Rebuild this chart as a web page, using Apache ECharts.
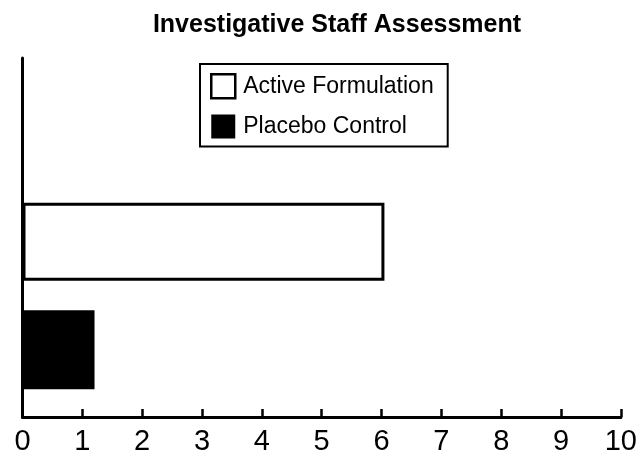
<!DOCTYPE html>
<html>
<head>
<meta charset="utf-8">
<script src="https://cdn.jsdelivr.net/npm/echarts@6/dist/echarts.min.js"></script>
<style>html,body{margin:0;padding:0;background:#fff}#c{width:640px;height:457px}</style>
</head>
<body>
<div id="c"></div>
<script>
const titleText = 'Investigative Staff Assessment';
const categories = ['Placebo Control', 'Active Formulation'];
const seriesNames = ['Active Formulation', 'Placebo Control'];
const activeValues = ['-', 6.03];
const placeboValues = [1.2, '-'];
const xMin = 0, xMax = 10, xStep = 1;

const FONT = '"Liberation Sans", Arial, Helvetica, sans-serif';
const chart = echarts.init(document.getElementById('c'), null, {renderer: 'canvas'});
chart.setOption({
  animation: false,
  backgroundColor: '#fff',
  title: {
    text: titleText, left: 332, top: 8, textAlign: 'center',
    textStyle: {fontFamily: FONT, fontWeight: 'bold', fontSize: 25, color: '#000'}
  },
  legend: {
    orient: 'vertical', left: 200, top: 64,
    padding: [9, 14, 8, 10],
    borderColor: '#000', borderWidth: 2,
    itemWidth: 24, itemHeight: 24, itemGap: 15,
    icon: 'rect',
    textStyle: {fontFamily: FONT, fontSize: 23, color: '#000', padding: [0, 0, 0, 3]},
    data: [
      {name: seriesNames[0], itemStyle: {color: '#fff', borderColor: '#000', borderWidth: 2.5}},
      {name: seriesNames[1], itemStyle: {color: '#000', borderColor: '#000', borderWidth: 0}}
    ]
  },
  grid: [
    {left: 22.5, right: 17.3, top: 58, bottom: 40},
    {left: 22.5, right: 17.3, top: 188.6, bottom: 53.6}
  ],
  xAxis: [
    {
      gridIndex: 0, type: 'value', min: xMin, max: xMax, interval: xStep,
      axisLine: {show: true, lineStyle: {color: '#000', width: 3}},
      axisTick: {show: true, inside: true, length: 8, lineStyle: {color: '#000', width: 2.5}},
      axisLabel: {fontFamily: FONT, fontSize: 29, color: '#000', margin: 10},
      splitLine: {show: false}
    },
    {
      gridIndex: 1, type: 'value', min: xMin, max: xMax, interval: xStep, show: false
    }
  ],
  yAxis: [
    {
      gridIndex: 0, type: 'category', data: [''],
      axisLine: {show: true, lineStyle: {color: '#000', width: 3}},
      axisTick: {show: false}, axisLabel: {show: false}
    },
    {
      gridIndex: 1, type: 'category', data: categories, show: false
    }
  ],
  series: [
    {
      name: seriesNames[0], type: 'bar', xAxisIndex: 1, yAxisIndex: 1,
      data: activeValues, barWidth: 78, barGap: '-100%',
      itemStyle: {color: '#fff', borderColor: '#000', borderWidth: 3}
    },
    {
      name: seriesNames[1], type: 'bar', xAxisIndex: 1, yAxisIndex: 1,
      data: placeboValues, barWidth: 79, barGap: '-100%',
      itemStyle: {color: '#000', borderWidth: 0}
    }
  ]
});
</script>
</body>
</html>
